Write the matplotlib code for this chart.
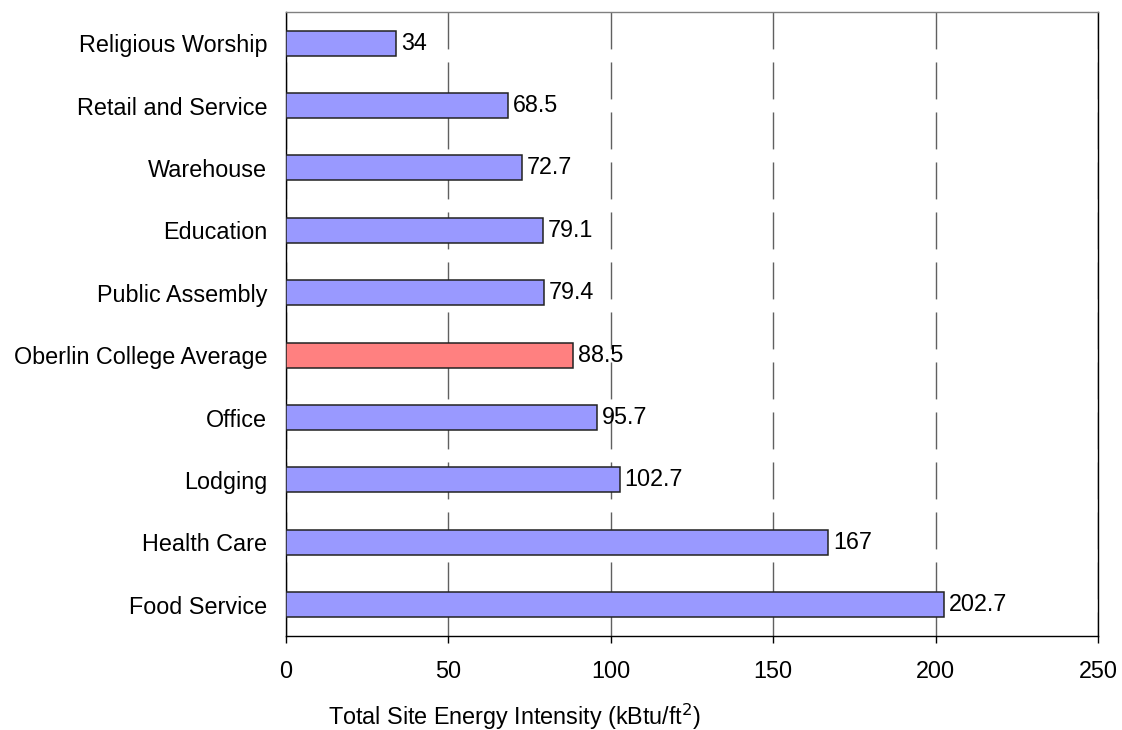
import matplotlib
matplotlib.use("Agg")
import matplotlib.pyplot as plt

plt.rcParams['font.family'] = ['Liberation Sans', 'DejaVu Sans']

# energy intensity by building type, bottom to top
categories = ["Food Service", "Health Care", "Lodging", "Office",
              "Oberlin College Average", "Public Assembly", "Education",
              "Warehouse", "Retail and Service", "Religious Worship"]
intensity = [202.7, 167, 102.7, 95.7, 88.5, 79.4, 79.1, 72.7, 68.5, 34]
value_labels = ["202.7", "167", "102.7", "95.7", "88.5", "79.4", "79.1",
                "72.7", "68.5", "34"]
highlight = "Oberlin College Average"

fig = plt.figure(figsize=(11.22, 7.3), dpi=100)
ax = fig.add_axes([0.2549, 0.1288, 0.7237, 0.8548])

colors = ['#FF8080' if c == highlight else '#9999FF' for c in categories]
ypos = list(range(len(categories)))
bars = ax.barh(ypos, intensity, height=0.4, color=colors,
               edgecolor='#222222', linewidth=1.1, zorder=3)

for b, lab in zip(bars, value_labels):
    ax.annotate(lab, (b.get_width(), b.get_y() + b.get_height() / 2),
                xytext=(3.5, 0), textcoords='offset points',
                ha='left', va='center', fontsize=16.8, zorder=4)

ax.set_xlim(0, 250)
ax.set_ylim(-0.5, len(categories) - 0.5)
ax.set_xticks([0, 50, 100, 150, 200, 250])
ax.set_yticks(ypos)
ax.set_yticklabels(categories)

ax.tick_params(axis='y', length=0, pad=13.5, labelsize=16.8)
ax.tick_params(axis='x', direction='out', length=5, width=1, pad=12.6,
               labelsize=16.8, colors='black')

# long dashes, phased so a dash starts at the top edge
ax.xaxis.grid(True, color='#606060', linewidth=1,
              linestyle=(9.3, (26.6, 9.4)), zorder=0)
ax.set_axisbelow(True)

for side in ['left', 'bottom', 'right']:
    ax.spines[side].set_color('black')
    ax.spines[side].set_linewidth(1)
ax.spines['top'].set_color('#808080')
ax.spines['top'].set_linewidth(1)

ax.set_xlabel("Total Site Energy Intensity (kBtu/ft$^2$)", fontsize=16.8,
              va='baseline')
ax.xaxis.set_label_coords(0.282, -0.1426)

fig.savefig("out.png", dpi=100)
